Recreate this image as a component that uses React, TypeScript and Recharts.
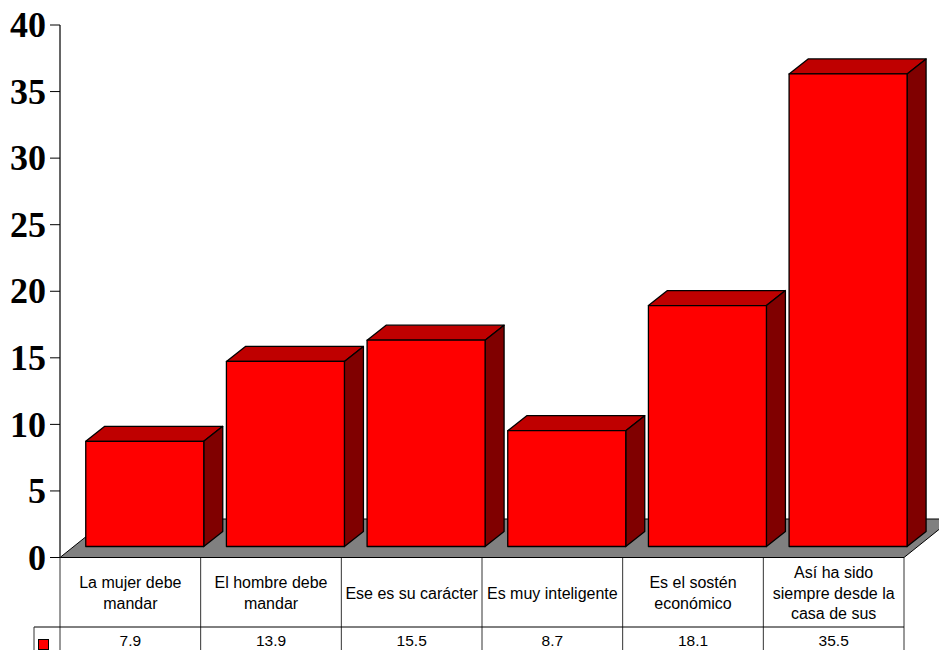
import React from 'react';
import { BarChart, Bar, XAxis, YAxis } from 'recharts';

const categoryLines = [
  ['La mujer debe', 'mandar'],
  ['El hombre debe', 'mandar'],
  ['Ese es su carácter'],
  ['Es muy inteligente'],
  ['Es el sostén', 'económico'],
  ['Así ha sido', 'siempre desde la', 'casa de sus'],
];
const categories = categoryLines.map((lines) => lines.join(' '));
const values = [7.9, 13.9, 15.5, 8.7, 18.1, 35.5];
const yTicks = [0, 5, 10, 15, 20, 25, 30, 35, 40];

const data = categories.map((name, i) => ({ name, value: values[i] }));

const W = 939;
const H = 650;
const LEFT = 60;
const RIGHT = 904;
const TOP = 25;
const BASE = 557.5;
const ROW = 627;
const COL = (RIGHT - LEFT) / categories.length;

// 3d look: bars sit on the floor, shifted back from the table edge
const SHIFT_X = 14.5;
const SHIFT_Y = -11;
const DEPTH_X = 19;
const DEPTH_Y = -15;

const SANS = '"Liberation Sans", Arial, sans-serif';
const SERIF = '"Liberation Serif", "Times New Roman", serif';

const Box3D = (props: any) => {
  const { x, y, width, height } = props;
  const l = x + SHIFT_X;
  const r = l + width;
  const t = y + SHIFT_Y;
  const b = t + height;
  return (
    <g stroke="#000" strokeWidth={1.3} strokeLinejoin="round">
      <polygon points={`${l},${t} ${l + DEPTH_X},${t + DEPTH_Y} ${r + DEPTH_X},${t + DEPTH_Y} ${r},${t}`} fill="#bf0000" />
      <polygon points={`${r},${t} ${r + DEPTH_X},${t + DEPTH_Y} ${r + DEPTH_X},${b + DEPTH_Y} ${r},${b}`} fill="#800000" />
      <rect x={l} y={t} width={width} height={height} fill="#ff0000" />
    </g>
  );
};

const Floor = () => (
  <polygon
    points={`${LEFT},${BASE} ${LEFT + 48},519 ${W + 13},519 ${RIGHT},${BASE}`}
    fill="#808080"
    stroke="#000"
    strokeWidth={1}
  />
);

const TableFrame = () => {
  const cols = categories.map((_, i) => LEFT + COL * (i + 1));
  return (
    <g fill="none">
      {cols.map((x) => (
        <line key={x} x1={x} x2={x} y1={BASE} y2={H} stroke="#333" strokeWidth={1} />
      ))}
      <line x1={LEFT} x2={LEFT} y1={TOP} y2={H} stroke="#333" strokeWidth={1} />
      <line x1={LEFT} x2={RIGHT} y1={BASE} y2={BASE} stroke="#000" strokeWidth={1} />
      <line x1={34} x2={RIGHT} y1={ROW} y2={ROW} stroke="#000" strokeWidth={1} />
      <line x1={34} x2={34} y1={ROW} y2={H} stroke="#333" strokeWidth={1} />
      <rect x={38.5} y={639.5} width={10} height={10} fill="#ff0000" stroke="#000" />
    </g>
  );
};

const TableTick = (props: any) => {
  const { x, index } = props;
  const lines = categoryLines[index];
  const startY = 593 - ((lines.length - 1) * 20.7) / 2;
  return (
    <g fontFamily={SANS} fontSize={16} fill="#000" textAnchor="middle">
      {lines.map((line, i) => (
        <text key={line} x={x} y={startY + i * 20.7} dy="0.35em">{line}</text>
      ))}
      {/* sits a little high so the row stays inside the picture */}
      <text x={x} y={641} fontSize={15.5} dy="0.35em">{values[index]}</text>
    </g>
  );
};

const ValueTick = (props: any) => {
  const { y, payload } = props;
  return (
    <text x={46} y={y} dy="0.34em" textAnchor="end" fontFamily={SERIF} fontWeight="bold" fontSize={36} fill="#000">
      {payload.value}
    </text>
  );
};

export default function App() {
  return (
    <div style={{ position: 'absolute', left: 0, top: 0, width: W, height: H, overflow: 'hidden', background: '#fff' }}>
      <BarChart
        width={W}
        height={H}
        data={data}
        margin={{ top: TOP, right: W - RIGHT, bottom: 0, left: 0 }}
        barCategoryGap="8%"
      >
        <Floor />
        <XAxis
          dataKey="name"
          interval={0}
          height={H - BASE}
          axisLine={false}
          tickLine={false}
          tick={<TableTick />}
        />
        <YAxis
          domain={[0, 40]}
          ticks={yTicks}
          width={LEFT}
          tickSize={10}
          axisLine={{ stroke: '#333' }}
          tickLine={{ stroke: '#000' }}
          tick={<ValueTick />}
        />
        <Bar dataKey="value" isAnimationActive={false} shape={<Box3D />} />
        <TableFrame />
      </BarChart>
    </div>
  );
}
